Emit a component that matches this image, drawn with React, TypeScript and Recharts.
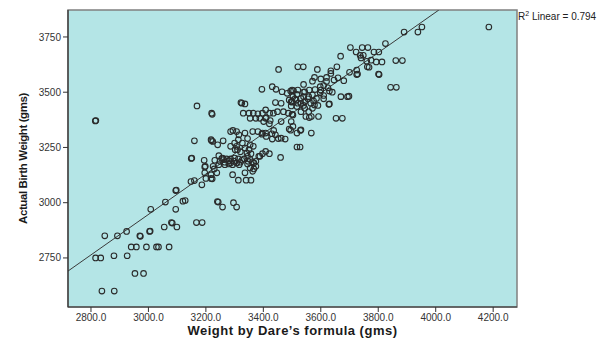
import React from "react";
import {
  ScatterChart,
  Scatter,
  XAxis,
  YAxis,
  ReferenceArea,
  ReferenceLine,
} from "recharts";

// Observations: [weight by Dare's formula, actual birth weight]
const lowRange: [number, number][] = [
  [2838, 2600], [2881, 2600], [2953, 2680], [2983, 2680],
  [2816, 2750], [2834, 2750], [2880, 2760], [2926, 2760],
  [2848, 2850], [2892, 2850], [2970, 2850], [2972, 2848],
  [2924, 2870], [3004, 2870], [3006, 2872],
  [2940, 2800], [2958, 2800], [2993, 2800], [3028, 2800], [3035, 2800], [3072, 2800],
  [3055, 2890], [3099, 2890], [3080, 2910], [3083, 2908], [3167, 2910], [3187, 2910],
  [3008, 2970], [3095, 2970], [3059, 3003], [3120, 3007], [3128, 3010],
  [3095, 3055], [3097, 3057], [3240, 3005], [3243, 3003], [3258, 2980],
  [3296, 3000], [3307, 2980], [3148, 3096], [3160, 3100], [3186, 3081],
];

const midRange: [number, number][] = [
  [3149, 3200], [3151, 3202], [3160, 3280],
  [3196, 3135], [3218, 3127], [3238, 3135], [3200, 3110], [3218, 3110], [3222, 3108],
  [3229, 3153], [3293, 3127], [3336, 3135], [3363, 3142], [3313, 3102], [3340, 3102], [3357, 3102],
  [3194, 3192], [3196, 3162], [3231, 3192], [3249, 3187], [3266, 3183], [3286, 3180],
  [3307, 3180], [3320, 3183], [3347, 3187], [3367, 3180],
  [3245, 3172], [3266, 3172], [3293, 3172], [3316, 3172], [3198, 3165], [3225, 3165],
  [3374, 3165], [3354, 3157], [3367, 3153],
  [3245, 3213], [3258, 3202], [3272, 3198], [3286, 3198], [3300, 3202], [3313, 3198],
  [3333, 3198], [3354, 3195], [3374, 3187], [3388, 3210],
  [3460, 3205], [3384, 3210], [3397, 3222], [3408, 3232], [3421, 3222], [3357, 3222], [3343, 3225],
  [3302, 3240], [3336, 3247], [3354, 3262], [3365, 3255], [3327, 3270], [3286, 3255],
  [3307, 3255], [3241, 3262], [3224, 3277], [3218, 3285], [3220, 3280],
  [3255, 3200], [3262, 3195], [3280, 3190], [3298, 3188], [3325, 3192], [3345, 3175],
  [3362, 3185], [3280, 3175], [3260, 3280], [3300, 3270], [3313, 3285], [3345, 3290],
  [3310, 3240], [3320, 3230], [3350, 3240], [3345, 3210],
];

const upperMidRange: [number, number][] = [
  [3294, 3327], [3286, 3322], [3307, 3322], [3315, 3307], [3336, 3315], [3363, 3322],
  [3381, 3322], [3397, 3315], [3408, 3315], [3430, 3312], [3442, 3307], [3452, 3290],
  [3462, 3292], [3476, 3288], [3431, 3288], [3410, 3300], [3395, 3310],
  [3436, 3327], [3490, 3333], [3495, 3328], [3531, 3330], [3529, 3327], [3517, 3315], [3567, 3315],
  [3517, 3252], [3528, 3252],
  [3503, 3345], [3421, 3357], [3401, 3367], [3462, 3367], [3497, 3367], [3424, 3372],
  [3354, 3382], [3374, 3382], [3388, 3382], [3408, 3382], [3410, 3385],
  [3330, 3405], [3350, 3405], [3365, 3405], [3381, 3402], [3397, 3405], [3408, 3420],
  [3422, 3405], [3435, 3405], [3449, 3412], [3470, 3412], [3487, 3405], [3503, 3397], [3500, 3400],
  [3548, 3390], [3567, 3390], [3592, 3390], [3560, 3385], [3653, 3382], [3675, 3382],
  [3169, 3438], [3220, 3405], [3222, 3400], [2815, 3370], [2817, 3372],
];

const upperRange: [number, number][] = [
  [3322, 3453], [3325, 3450], [3336, 3447], [3442, 3453], [3462, 3450],
  [3465, 3502], [3483, 3495], [3503, 3480], [3517, 3490], [3531, 3472], [3544, 3502],
  [3558, 3480], [3571, 3487], [3585, 3472], [3598, 3497],
  [3497, 3457], [3514, 3465], [3531, 3450], [3544, 3457], [3565, 3450], [3578, 3442],
  [3497, 3438], [3517, 3435], [3544, 3427], [3571, 3427], [3558, 3412], [3531, 3412],
  [3520, 3450], [3540, 3440], [3555, 3470], [3575, 3460], [3590, 3440], [3610, 3470],
  [3628, 3445], [3630, 3447], [3640, 3500], [3610, 3485], [3540, 3480], [3495, 3505],
  [3505, 3507], [3490, 3465], [3500, 3455], [3510, 3470],
  [3670, 3480], [3693, 3480], [3698, 3482], [3395, 3513], [3444, 3513], [3431, 3525],
  [3843, 3522], [3863, 3522], [3598, 3525], [3610, 3530], [3540, 3535], [3560, 3510],
  [3580, 3512], [3600, 3510], [3625, 3520], [3630, 3505], [3520, 3510], [3500, 3510], [3540, 3500],
];

const topRange: [number, number][] = [
  [3635, 3597], [3588, 3603], [3453, 3603], [3725, 3580], [3728, 3582], [3801, 3582],
  [3803, 3580], [3635, 3585], [3620, 3567], [3578, 3567], [3646, 3555], [3620, 3549],
  [3680, 3552], [3571, 3550], [3660, 3565], [3600, 3560],
  [3723, 3682], [3785, 3682], [3802, 3682], [3737, 3667], [3748, 3667], [3669, 3663],
  [3775, 3645], [3793, 3637], [3813, 3637], [3861, 3643], [3884, 3643], [3762, 3615],
  [3768, 3613], [3656, 3615], [3520, 3615], [3539, 3615], [3725, 3600], [3700, 3590],
  [3740, 3655], [3760, 3640],
  [4185, 3795], [3952, 3795], [3938, 3772], [3890, 3772], [3825, 3720],
  [3703, 3702], [3744, 3702], [3764, 3702],
];

const xTicks = [2800, 3000, 3200, 3400, 3600, 3800, 4000, 4200];
const yTicks = [2750, 3000, 3250, 3500, 3750];
const xDomain: [number, number] = [2720, 4283];
const yDomain: [number, number] = [2528, 3872];
// Fitted linear line end points (R² = 0.794)
const fitLine = [
  { x: 2720, y: 2690.6 },
  { x: 4011, y: 3872 },
];
const rSquared = "0.794";

const points = [...lowRange, ...midRange, ...upperMidRange, ...upperRange, ...topRange].map(
  ([x, y]) => ({ x, y })
);

const Ring = (props: any) => {
  const { cx, cy } = props;
  if (cx == null || cy == null) return null;
  return <circle cx={cx} cy={cy} r={2.8} fill="none" stroke="#2a2a2a" strokeWidth={1.1} />;
};

const tickStyle = { fontSize: 10, fill: "#333", fontFamily: "'Liberation Sans', Arial, sans-serif" };

export default function App() {
  return (
    <div style={{ position: "relative", width: 604, height: 333 }}>
      <ScatterChart
        width={604}
        height={333}
        margin={{ top: 2, right: 95, bottom: 6, left: 10 }}
      >
        <ReferenceArea
          x1={xDomain[0]}
          x2={xDomain[1]}
          y1={yDomain[0]}
          y2={yDomain[1]}
          fill="#b4e5e6"
          fillOpacity={1}
          stroke="#808080"
          strokeWidth={1.5}
        />
        <XAxis
          type="number"
          dataKey="x"
          domain={xDomain}
          ticks={xTicks}
          allowDataOverflow
          height={28}
          tickFormatter={(v: number) => v.toFixed(1)}
          tick={tickStyle}
          tickSize={5}
          axisLine={{ stroke: "#333", strokeWidth: 1.2 }}
          tickLine={{ stroke: "#333" }}
          label={{
            value: "Weight by Dare’s formula (gms)",
            position: "insideBottom",
            offset: 0,
            style: {
              fontSize: 13,
              fontWeight: "bold",
              fill: "#1a1a1a",
              letterSpacing: 0.5,
              fontFamily: "'Liberation Sans', Arial, sans-serif",
            },
          }}
        />
        <YAxis
          type="number"
          dataKey="y"
          domain={yDomain}
          ticks={yTicks}
          allowDataOverflow
          width={50}
          tick={tickStyle}
          tickSize={5}
          axisLine={{ stroke: "#333", strokeWidth: 1.2 }}
          tickLine={{ stroke: "#333" }}
          label={{
            value: "Actual Birth Weight (gms)",
            angle: -90,
            position: "insideLeft",
            offset: 5,
            textAnchor: "middle",
            style: {
              fontSize: 11.5,
              fontWeight: "bold",
              fill: "#1a1a1a",
              letterSpacing: -0.4,
              fontFamily: "'Liberation Sans', Arial, sans-serif",
            },
          }}
        />
        <ReferenceLine
          segment={fitLine}
          stroke="#3a3a3a"
          strokeWidth={1}
          ifOverflow="hidden"
        />
        <Scatter data={points} shape={Ring} isAnimationActive={false} />
      </ScatterChart>
      <div
        style={{
          position: "absolute",
          left: 510,
          top: 2,
          fontSize: 10,
          fontFamily: "'Liberation Sans', Arial, sans-serif",
          color: "#222",
          whiteSpace: "nowrap",
        }}
      >
        R<sup style={{ fontSize: 7 }}>2</sup> Linear = {rSquared}
      </div>
    </div>
  );
}
